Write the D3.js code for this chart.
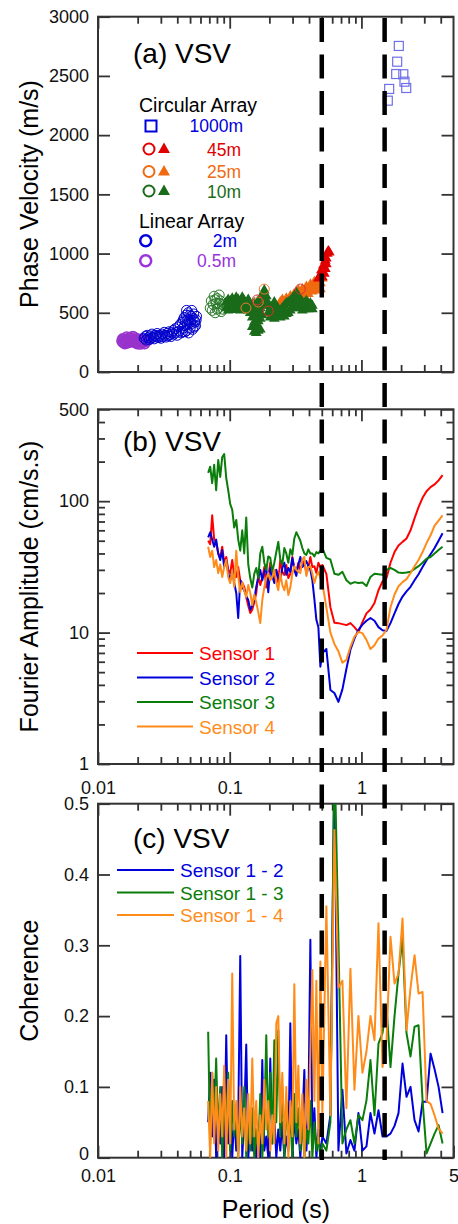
<!DOCTYPE html>
<html>
<head>
<meta charset="utf-8">
<script src="https://cdn.jsdelivr.net/npm/d3@7"></script>
<style>
  body { margin: 0; background: #fff; }
  svg text { font-family: "Liberation Sans", Arial, sans-serif; }
</style>
</head>
<body>
<div id="chart"></div>
<script>
// ---------- data ----------

// (a) phase velocity, [period (s), velocity (m/s)]
var linear05m = [[0.0152,262],[0.0155,250],[0.0158,275],[0.0161,258],[0.0163,268],[0.0166,245],[0.0169,282],
  [0.0172,262],[0.0175,290],[0.0178,270],[0.0181,255],[0.0184,300],[0.0188,272],[0.0191,250],[0.0195,265],
  [0.0198,240],[0.0201,278],[0.0205,258],[0.0209,236],[0.0212,262],[0.0216,248],[0.0220,270],[0.0224,255],
  [0.0228,262],[0.0232,275],[0.0236,265],[0.0240,270],
  [0.0154,280],[0.0160,240],[0.0165,295],[0.0171,250],[0.0177,285],[0.0183,262],[0.0190,288],[0.0197,258],
  [0.0203,245],[0.0210,275],[0.0218,260],[0.0226,240]];

var linear2m = [[0.0224,285],[0.0228,300],[0.0232,270],[0.0236,310],[0.0240,290],[0.0245,275],[0.0249,305],
  [0.0253,285],[0.0257,320],[0.0262,295],[0.0267,280],[0.0271,310],[0.0276,300],[0.0281,325],[0.0286,290],
  [0.0291,310],[0.0296,300],[0.0301,285],[0.0307,320],[0.0312,300],[0.0318,335],[0.0323,310],[0.0329,295],
  [0.0335,325],[0.0341,305],[0.0347,340],[0.0353,315],[0.0359,300],[0.0365,330],[0.0372,350],[0.0378,320],
  [0.0385,365],[0.0392,335],[0.0399,310],[0.0406,380],[0.0413,345],[0.0420,400],[0.0428,330],[0.0435,420],
  [0.0443,370],[0.0451,460],[0.0459,340],[0.0467,480],[0.0475,400],[0.0484,500],[0.0492,430],[0.0501,370],
  [0.0510,470],[0.0519,410],[0.0528,450],[0.0537,380],[0.0546,420],[0.0556,440],
  [0.0440,340],[0.0455,390],[0.0470,350],[0.0480,440],[0.0488,330],[0.0497,480],[0.0505,420],[0.0515,520],
  [0.0522,360],[0.0533,490],[0.0541,430],[0.0550,390],[0.0560,470],[0.0470,520],[0.0460,430],[0.0445,440]];

var circ10mRing = [[0.0711,540],[0.0725,600],[0.0736,520],[0.0748,570],[0.0762,640],[0.0775,500],[0.0789,580],
  [0.0803,620],[0.0817,540],[0.0832,650],[0.0847,600],[0.0862,510],[0.0877,570],[0.0892,530],[0.0908,560],
  [0.0775,610],[0.0803,530],[0.0832,580]];

var circ10mTri = [[0.0940,540],[0.0940,590],[0.0974,520],[0.0974,610],[0.1009,560],[0.1009,600],
  [0.1045,530],[0.1045,620],[0.1082,550],[0.1082,600],[0.1121,525],[0.1121,580],[0.1121,630],
  [0.1160,545],[0.1160,610],[0.1202,520],[0.1202,590],[0.1245,560],[0.1245,630],[0.1289,530],[0.1289,600],
  [0.1335,540],[0.1335,580],[0.1383,520],[0.1383,610],[0.1432,500],[0.1432,570],
  [0.1483,380],[0.1483,460],[0.1483,540],[0.1536,340],[0.1536,420],[0.1536,500],[0.1536,580],
  [0.1590,330],[0.1590,400],[0.1590,480],[0.1590,560],[0.1647,350],[0.1647,430],[0.1647,510],[0.1647,600],
  [0.1706,360],[0.1706,450],[0.1706,540],[0.1706,620],[0.1767,480],[0.1767,560],[0.1767,650],
  [0.1830,600],[0.1830,690],[0.1895,560],[0.1895,640],[0.1962,500],[0.1962,580],[0.2032,460],[0.2032,540],
  [0.2105,470],[0.2105,550],[0.2180,450],[0.2180,520],[0.2180,590],[0.2258,480],[0.2258,550],
  [0.2338,470],[0.2338,530],[0.2421,460],[0.2421,520],[0.2508,480],[0.2508,540],[0.2597,470],[0.2597,560],
  [0.2690,490],[0.2690,580],[0.2786,500],[0.2786,590],[0.2885,520],[0.2885,600],[0.2988,540],[0.2988,620],
  [0.3094,560],[0.3094,640],[0.3204,590],[0.3204,670],[0.3319,560],[0.3319,640],[0.3437,540],[0.3437,610],
  [0.3559,520],[0.3559,590],[0.3686,530],[0.3686,580],[0.3818,540],[0.3818,600],[0.3954,530],[0.3954,570],
  [0.4095,540],[0.4095,580],[0.4241,530],[0.4241,560]];

var circ25mTri = [[0.234,560],[0.242,590],[0.251,610],[0.260,580],[0.269,620],[0.279,600],[0.289,640],
  [0.299,620],[0.309,660],[0.320,640],[0.332,690],[0.344,670],[0.356,700],[0.369,680],[0.382,720],
  [0.395,700],[0.410,740],[0.424,720],[0.439,760],[0.455,730],[0.471,770],[0.488,750],[0.505,790],
  [0.299,580],[0.320,600],[0.344,620],[0.369,640],[0.395,660],[0.424,680],[0.455,690],[0.488,700]];

var circ45mTri = [[0.471,790],[0.488,820],[0.497,860],[0.505,850],[0.514,900],[0.523,880],[0.532,940],
  [0.541,960],[0.550,1000],[0.560,1020],[0.541,910],[0.523,830],[0.505,800],[0.532,870],[0.570,1010]];

var circ25mRing = [[0.1328,540],[0.1647,591],[0.1830,700]];
var circ45mRing = [[0.1618,608],[0.1962,515],[0.3437,700]];

var circ1000m = [[1.922,2753],[1.868,2620],[1.836,2516],[2.079,2514],[2.123,2451],[2.188,2398],
  [1.624,2390],[1.585,2291]];

// (b) and (c) share one period grid (s)
var periods = [0.0686,0.0711,0.0736,0.0762,0.0789,0.0818,0.0847,0.0877,0.0908,0.0941,
  0.0974,0.1009,0.1045,0.1082,0.1121,0.1160,0.1202,0.1245,0.1289,0.1335,
  0.1383,0.1432,0.1483,0.1536,0.1590,0.1647,0.1706,0.1767,0.1830,0.1895,
  0.1962,0.2032,0.2105,0.2180,0.2258,0.2338,0.2421,0.2508,0.2597,0.2690,
  0.2786,0.2885,0.2988,0.3094,0.3204,0.3319,0.3437,0.3559,0.3686,0.3818,
  0.3954,0.4095,0.4241,0.4392,0.4549,0.4711,0.4879,0.5052,
  0.5419,0.5812,0.6234,0.6686,0.7171,0.7692,0.8250,0.8848,0.9490,1.018,
  1.092,1.171,1.256,1.347,1.445,1.550,1.662,1.783,1.912,2.051,
  2.199,2.359,2.530,2.714,2.911,3.122,3.348,3.591,3.852,4.131];

// (b) Fourier amplitude (cm/s.s)
var amp1 = [50,47,78,51,48,40,37.6,45,34,37.6, 30,28.4,35.7,27,26.5,31.5,25,24,22.3,18.6,
  16,14.1,14.9,17,20,27.5,23,26,31.5,22, 26.5,34,28,25,30,24,35.7,29,27.5,32.7,
  26,28,37.6,31,29,34,30,33,35,28, 31,37.6,31.5,32,28.4,34,31.5,32.7,
  28,15.6,11.9,11.8,11.6,11.4,11.8,11,10.1,12, 14,15,16.8,21,24.5,26,34,41,46,49,
  52,60,74,90,106,119,128,134,144,158];
var amp2 = [53,58,51,45,51,40,35.7,42.4,31.5,35.7, 28.4,25,30,23.8,20,12.9,25,22,21,19,
  17.7,14.9,16,17.7,22.3,26,30,25,29,31.5, 20.3,31,27,23.8,30,26,25,31,34,27.5,
  31,29,37,30,27,33,37.6,31.5,33,35, 32,30,25,18,12.5,11,5.5,7,
  7.5,3.66,3.47,2.97,3.7,5.3,7.4,9,10.5,11.5, 12.3,12.9,12.3,11,10.4,10.3,11.8,14,16.5,18.8,
  20.6,22.3,25,27.8,31.5,35.5,39.5,44,50,57];
var amp3 = [164,183,137,189,121,206,153,216,228,150, 121,95,86,63,72,51,42,60,40,75,
  33,26,22,28,31,26,40,45,34,30, 38,37,29,34,41,49,36,33,44,40,
  34,43,39,52,58,54,50,44,40,39, 43,40,40,38,41,40,42,44,
  37,36,28,27.5,29,25,23.5,24.2,23.8,24, 22.6,26.5,28,27.8,27.5,30,31,30,28.6,28.4,
  28.6,29,30.5,32,34,36.5,37.6,40,42.5,45];
var amp4 = [45,37.6,42,31.5,35.7,28.4,33,26.5,31.5,35.7, 26.5,23.8,30,22.3,42,26.5,20.3,24,21,18.6,
  23,20,16.2,19.5,17,14.3,11.8,17.7,22,26, 28.4,25,26.5,30,24,21,28.4,23,21,25,
  19.3,22,28,32,30,29,28.4,36,37.6,27, 31.5,32,28,23.8,27,29,26,23.8,
  15.5,10,8.2,7.2,5.9,6.2,7.8,9.3,10.1,9.9, 8.8,7.5,8,9,9.5,10.5,15.6,19.5,22.5,24.2,
  25.5,28.4,32,35.7,41,48,55,65,71,78];

// (c) coherence
var coh12 = [0.05,0.12,0.03,0.11,0.0,0.07,0.02,0.10,0.0,0.173, 0.02,0.08,0.0,0.06,0.01,0.05,0.285,0.0,0.06,0.16,
  0.0,0.04,0.01,0.05,0.0,0.03,0.0,0.138,0.01,0.03, 0.0,0.14,0.02,0.06,0.0,0.04,0.01,0.05,0.0,0.03,
  0.01,0.19,0.0,0.06,0.02,0.04,0.0,0.05,0.124,0.01, 0.06,0.308,0.02,0.07,0.0,0.04,0.0,0.03,
  0.02,0.06,0.56,0.01,0.096,0.006,0.025,0.01,0.063,0.01, 0.016,0.063,0.034,0.067,0.03,0.03,0.034,0.045,0.063,0.133,
  0.086,0.10,0.053,0.037,0.079,0.079,0.147,0.125,0.10,0.063];
var coh13 = [0.178,0.02,0.12,0.05,0.14,0.03,0.10,0.0,0.09,0.04, 0.12,0.01,0.08,0.03,0.06,0.0,0.07,0.02,0.10,0.0,
  0.05,0.01,0.07,0.0,0.04,0.01,0.09,0.0,0.05,0.173, 0.03,0.12,0.02,0.166,0.05,0.18,0.03,0.10,0.0,0.08,
  0.02,0.06,0.0,0.09,0.03,0.07,0.01,0.05,0.0,0.04, 0.02,0.08,0.0,0.05,0.01,0.03,0.0,0.02,
  0.01,0.05,0.58,0.31,0.02,0.04,0.053,0.02,0.06,0.053, 0.081,0.138,0.06,0.161,0.176,0.213,0.128,0.2,0.26,0.31,
  0.176,0.143,0.185,0.187,0.081,0.006,0.02,0.034,0.046,0.02];
var coh14 = [0.08,0.0,0.12,0.02,0.10,0.01,0.09,0.03,0.13,0.0, 0.11,0.02,0.26,0.04,0.08,0.0,0.10,0.03,0.07,0.01,
  0.09,0.02,0.14,0.03,0.08,0.0,0.06,0.02,0.11,0.04, 0.08,0.01,0.06,0.02,0.19,0.20,0.05,0.12,0.02,0.10,
  0.0,0.08,0.03,0.245,0.05,0.13,0.02,0.09,0.0,0.11, 0.04,0.15,0.265,0.08,0.25,0.02,0.277,0.06,
  0.355,0.06,0.463,0.24,0.25,0.07,0.267,0.096,0.20,0.12, 0.15,0.20,0.166,0.331,0.128,0.166,0.312,0.246,0.26,0.338,
  0.18,0.24,0.286,0.232,0.234,0.08,0.076,0.06,0.041,0.034];

var markerPeriods = [0.5, 1.5];

var sensorNames = ['Sensor 1', 'Sensor 2', 'Sensor 3', 'Sensor 4'];
var sensorColors = ['#ff0000', '#0000dd', '#0a7d0a', '#ff8c1a'];
var pairNames = ['Sensor 1 - 2', 'Sensor 1 - 3', 'Sensor 1 - 4'];
var pairColors = ['#0000dd', '#0a7d0a', '#ff8c1a'];

var xMajor = [0.01, 0.1, 1];
var xMinor = [0.02,0.03,0.04,0.05,0.06,0.07,0.08,0.09,0.2,0.3,0.4,0.5,0.6,0.7,0.8,0.9,2,3,4];

// ---------- set up svg ----------
var svgWidth = 458, svgHeight = 1224;
var left = 98, right = 453.5;

var svg = d3.select('#chart').append('svg')
    .attr('width', svgWidth)
    .attr('height', svgHeight);

var x = d3.scaleLog().domain([0.01, 5]).range([left, right]);

var yA = d3.scaleLinear().domain([0, 3000]).range([372, 16.7]);
var yB = d3.scaleLog().domain([1, 500]).range([764, 409.3]);
var yC = d3.scaleLinear().domain([0, 0.5]).range([1157.7, 803.7]);

var axisColor = '#333';

function drawFrame(y, top, bottom, yMajor, yMinor, xLabels, xPad, clipId) {
    var g = svg.append('g');
    var fmt = function(d) { return String(d); };
    var lab = function(d) { return xLabels.indexOf(d) >= 0 ? String(d) : ''; };
    var xTicks = xMajor.concat(xLabels.filter(function(d) { return xMajor.indexOf(d) < 0; }));

    g.append('g').attr('transform', 'translate(0,' + bottom + ')')
        .call(d3.axisBottom(x).tickValues(xTicks).tickSize(-12).tickPadding(xPad).tickFormat(lab));
    g.append('g').attr('transform', 'translate(0,' + bottom + ')')
        .call(d3.axisBottom(x).tickValues(xMinor).tickSize(-7).tickFormat(''));
    g.append('g').attr('transform', 'translate(0,' + top + ')')
        .call(d3.axisTop(x).tickValues(xMajor).tickSize(-12).tickFormat(''));
    g.append('g').attr('transform', 'translate(0,' + top + ')')
        .call(d3.axisTop(x).tickValues(xMinor).tickSize(-7).tickFormat(''));

    var yAxisG = g.append('g').attr('transform', 'translate(' + left + ',0)')
        .call(d3.axisLeft(y).tickValues(yMajor).tickSize(-12).tickPadding(9).tickFormat(fmt));
    g.append('g').attr('transform', 'translate(' + right + ',0)')
        .call(d3.axisRight(y).tickValues(yMajor).tickSize(-12).tickFormat(''));
    if (yMinor) {
        g.append('g').attr('transform', 'translate(' + left + ',0)')
            .call(d3.axisLeft(y).tickValues(yMinor).tickSize(-7).tickFormat(''));
        g.append('g').attr('transform', 'translate(' + right + ',0)')
            .call(d3.axisRight(y).tickValues(yMinor).tickSize(-7).tickFormat(''));
    }

    g.selectAll('.domain').remove();
    g.selectAll('.tick line').attr('stroke', axisColor).attr('stroke-width', 1.8);
    g.selectAll('.tick text').attr('font-size', 18).attr('fill', '#111')
        .style('font-family', '"Liberation Sans", Arial, sans-serif');

    g.append('rect')
        .attr('x', left).attr('y', top)
        .attr('width', right - left).attr('height', bottom - top)
        .attr('fill', 'none').attr('stroke', axisColor).attr('stroke-width', 2);

    svg.append('clipPath').attr('id', clipId).append('rect')
        .attr('x', left).attr('y', top)
        .attr('width', right - left).attr('height', bottom - top);
    return yAxisG;
}

// ---------- (a) phase velocity ----------
drawFrame(yA, 16.7, 372, [0, 500, 1000, 1500, 2000, 2500, 3000], null, [], 10, 'clipA');

var plotA = svg.append('g').attr('clip-path', 'url(#clipA)');

function rings(data, color, r, sw) {
    plotA.append('g').selectAll('circle')
        .data(data).enter().append('circle')
        .attr('cx', d => x(d[0]))
        .attr('cy', d => yA(d[1]))
        .attr('r', r)
        .attr('fill', 'none')
        .attr('stroke', color)
        .attr('stroke-width', sw);
}
function triangles(data, color, size) {
    plotA.append('g').selectAll('path')
        .data(data).enter().append('path')
        .attr('d', d3.symbol().type(d3.symbolTriangle).size(size))
        .attr('transform', d => 'translate(' + x(d[0]) + ',' + yA(d[1]) + ')')
        .attr('fill', color);
}

rings(linear05m, '#9933cc', 5, 1.6);
rings(linear2m, '#0000cc', 5, 1);
rings(circ10mRing, '#2a7a2a', 5, 1);
triangles(circ25mTri, '#f06a10', 50);
triangles(circ10mTri, '#1a6b1a', 50);
triangles(circ45mTri, '#e00000', 50);
rings(circ25mRing, '#f07a30', 5, 1);
rings(circ45mRing, '#e03030', 5, 1);

plotA.append('g').selectAll('rect')
    .data(circ1000m).enter().append('rect')
    .attr('x', d => x(d[0]) - 4.5)
    .attr('y', d => yA(d[1]) - 4.5)
    .attr('width', 9).attr('height', 9)
    .attr('fill', 'none')
    .attr('stroke', '#6f6fe8')
    .attr('stroke-width', 1.2);

// legend (a)
var legA = svg.append('g');
legA.append('text').attr('x', 139).attr('y', 112).attr('font-size', 19.5).text('Circular Array');
legA.append('rect').attr('x', 145.5).attr('y', 120.5).attr('width', 11).attr('height', 11)
    .attr('fill', 'none').attr('stroke', '#0000dd').attr('stroke-width', 2);
legA.append('text').attr('x', 243).attr('y', 132).attr('text-anchor', 'end')
    .attr('font-size', 17.5).attr('fill', '#0000dd').text('1000m');

var circRows = [
    {label: '45m', color: '#e00000', y: 149},
    {label: '25m', color: '#f06a10', y: 171.5},
    {label: '10m', color: '#1a6b1a', y: 191}
];
circRows.forEach(function(r) {
    legA.append('circle').attr('cx', 149).attr('cy', r.y).attr('r', 5.5)
        .attr('fill', 'none').attr('stroke', r.color).attr('stroke-width', 2);
    legA.append('path').attr('d', d3.symbol().type(d3.symbolTriangle).size(62))
        .attr('transform', 'translate(164,' + (r.y + 0.5) + ')').attr('fill', r.color);
    legA.append('text').attr('x', 241).attr('y', r.y + 6.5).attr('text-anchor', 'end')
        .attr('font-size', 17.5).attr('fill', r.color).text(r.label);
});

legA.append('text').attr('x', 139).attr('y', 228).attr('font-size', 19.5).text('Linear Array');
var linRows = [
    {label: '2m', color: '#0000dd', y: 240.7, tx: 237},
    {label: '0.5m', color: '#9933dd', y: 260.7, tx: 236}
];
linRows.forEach(function(r) {
    legA.append('circle').attr('cx', 145.7).attr('cy', r.y).attr('r', 5.5)
        .attr('fill', 'none').attr('stroke', r.color).attr('stroke-width', 2.5);
    legA.append('text').attr('x', r.tx).attr('y', r.y + 6.5).attr('text-anchor', 'end')
        .attr('font-size', 17.5).attr('fill', r.color).text(r.label);
});

svg.append('text').attr('x', 133).attr('y', 62.7).attr('font-size', 28).text('(a) VSV');

// ---------- (b) Fourier amplitude ----------
drawFrame(yB, 409.3, 764, [1, 10, 100, 500],
    [2,3,4,5,6,7,8,9,20,30,40,50,60,70,80,90,200,300,400], [0.01, 0.1, 1], 17, 'clipB');

var plotB = svg.append('g').attr('clip-path', 'url(#clipB)');
var lineB = d3.line().x(d => x(d[0])).y(d => yB(d[1]));
[amp1, amp2, amp3, amp4].forEach(function(a, i) {
    plotB.append('path')
        .datum(periods.map((p, j) => [p, a[j]]))
        .attr('d', lineB)
        .attr('fill', 'none')
        .attr('stroke', sensorColors[i])
        .attr('stroke-width', 2)
        .attr('stroke-linejoin', 'round');
});

var legB = svg.append('g');
sensorNames.forEach(function(name, i) {
    var yy = 653 + i * 24.5;
    legB.append('line').attr('x1', 137).attr('x2', 193).attr('y1', yy).attr('y2', yy)
        .attr('stroke', sensorColors[i]).attr('stroke-width', 2);
    legB.append('text').attr('x', 199).attr('y', yy + 7).attr('font-size', 19)
        .attr('fill', sensorColors[i]).text(name);
});

svg.append('text').attr('x', 123).attr('y', 450.7).attr('font-size', 28).text('(b) VSV');

// ---------- (c) coherence ----------
var yAxisC = drawFrame(yC, 803.7, 1157.7, [0, 0.1, 0.2, 0.3, 0.4, 0.5], null, [0.01, 0.1, 1, 5], 12, 'clipC');
// lift the "0" label a little so it clears the "0.01" below it
yAxisC.selectAll('.tick text').filter(d => d === 0).attr('dy', '0.1em');

var plotC = svg.append('g').attr('clip-path', 'url(#clipC)');
var lineC = d3.line().x(d => x(d[0])).y(d => yC(d[1]));
[coh12, coh13, coh14].forEach(function(c, i) {
    plotC.append('path')
        .datum(periods.map((p, j) => [p, c[j]]))
        .attr('d', lineC)
        .attr('fill', 'none')
        .attr('stroke', pairColors[i])
        .attr('stroke-width', 2)
        .attr('stroke-linejoin', 'round');
});

var legC = svg.append('g');
pairNames.forEach(function(name, i) {
    var yy = 870 + i * 22.5;
    legC.append('line').attr('x1', 117).attr('x2', 174).attr('y1', yy).attr('y2', yy)
        .attr('stroke', pairColors[i]).attr('stroke-width', 2);
    legC.append('text').attr('x', 180).attr('y', yy + 7).attr('font-size', 19)
        .attr('fill', pairColors[i]).text(name);
});

svg.append('text').attr('x', 133).attr('y', 848).attr('font-size', 28).text('(c) VSV');

// ---------- dashed period markers ----------
svg.append('g').selectAll('line')
    .data(markerPeriods).enter().append('line')
    .attr('x1', d => x(d)).attr('x2', d => x(d))
    .attr('y1', 18).attr('y2', 1160)
    .attr('stroke', '#000')
    .attr('stroke-width', 4.5)
    .attr('stroke-dasharray', '24,12.5');

// ---------- axis titles ----------
function yTitle(text, cy) {
    svg.append('text')
        .attr('transform', 'translate(38,' + cy + ') rotate(-90)')
        .attr('text-anchor', 'middle')
        .attr('font-size', 25)
        .text(text);
}
yTitle('Phase Velocity (m/s)', 194);
yTitle('Fourier Amplitude (cm/s.s)', 586.5);
yTitle('Coherence', 980.7);

svg.append('text')
    .attr('x', 276).attr('y', 1218)
    .attr('text-anchor', 'middle')
    .attr('font-size', 25)
    .text('Period (s)');
</script>
</body>
</html>
